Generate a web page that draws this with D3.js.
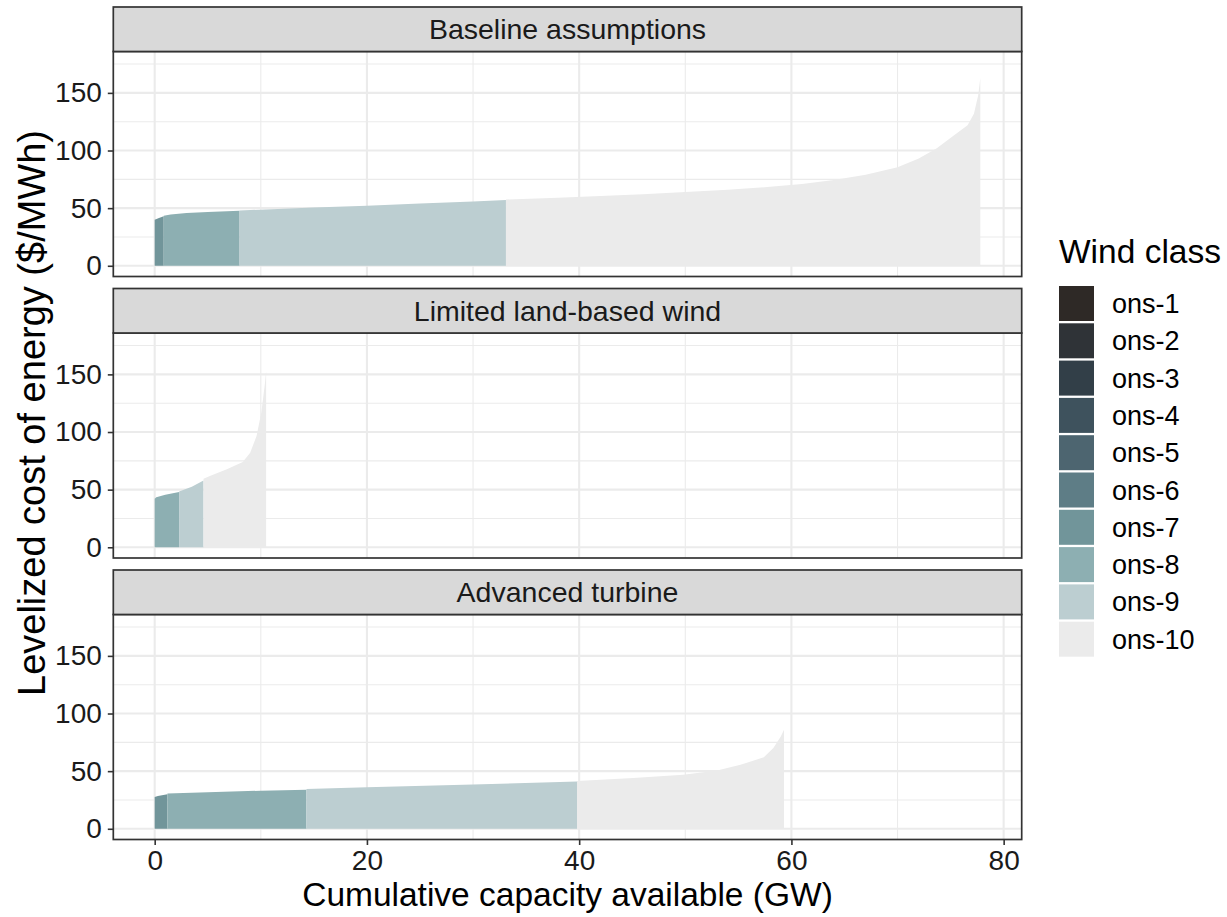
<!DOCTYPE html>
<html>
<head>
<meta charset="utf-8">
<script src="https://cdn.jsdelivr.net/npm/d3@7"></script>
<style>
  html, body { margin: 0; padding: 0; background: #ffffff; }
  svg { display: block; font-family: "Liberation Sans", Arial, sans-serif; }
</style>
</head>
<body>
<svg id="chart" width="1227" height="917"></svg>
<script>
// ---------------- data ----------------
const scenarios = ["Baseline assumptions", "Limited land-based wind", "Advanced turbine"];
const windClasses = ["ons-1","ons-2","ons-3","ons-4","ons-5","ons-6","ons-7","ons-8","ons-9","ons-10"];
const classColors = ["#2E2926","#2F3337","#323F48","#3E525D","#4D6570","#5E7D86","#71959A","#8DAFB2","#BCCED1","#EBEBEB"];
const xTicks = [0, 20, 40, 60, 80];
const xMinorTicks = [10, 30, 50, 70];
const yTicks = [0, 50, 100, 150];
const yMinorTicks = [25, 75, 125, 175];

// [wind class, cumulative capacity (GW), levelized cost ($/MWh)]
const baselineCurve = [
  ["ons-7", 0, 40], ["ons-7", 0.4, 41.5], ["ons-7", 0.85, 43],
  ["ons-8", 0.85, 43.5], ["ons-8", 1.5, 44.5], ["ons-8", 3, 45.8], ["ons-8", 5, 46.7], ["ons-8", 8.0, 47.7],
  ["ons-9", 8.0, 48], ["ons-9", 15, 50.5], ["ons-9", 20, 52], ["ons-9", 25, 54], ["ons-9", 30, 55.8], ["ons-9", 33.1, 57],
  ["ons-10", 33.1, 57.5], ["ons-10", 38, 59], ["ons-10", 42, 60.5], ["ons-10", 46, 62], ["ons-10", 50, 64],
  ["ons-10", 54, 66], ["ons-10", 58, 68.5], ["ons-10", 61, 71], ["ons-10", 64, 74.5], ["ons-10", 67, 79],
  ["ons-10", 70, 85.5], ["ons-10", 72, 93], ["ons-10", 73.7, 102], ["ons-10", 75.3, 113], ["ons-10", 76.6, 122],
  ["ons-10", 77.2, 132], ["ons-10", 77.6, 148], ["ons-10", 77.8, 163]
];
const limitedCurve = [
  ["ons-8", 0, 42], ["ons-8", 0.15, 43.5], ["ons-8", 1, 45.5], ["ons-8", 2.3, 48],
  ["ons-9", 2.3, 48.5], ["ons-9", 3.5, 52.5], ["ons-9", 4.6, 58],
  ["ons-10", 4.6, 59.5], ["ons-10", 5.2, 61.8], ["ons-10", 6.8, 67.6], ["ons-10", 8.3, 74], ["ons-10", 9.0, 82],
  ["ons-10", 9.6, 96.5], ["ons-10", 10.05, 117], ["ons-10", 10.4, 143], ["ons-10", 10.5, 153]
];
const advancedCurve = [
  ["ons-7", 0, 27.5], ["ons-7", 0.3, 28.5], ["ons-7", 1.2, 30],
  ["ons-8", 1.2, 30.5], ["ons-8", 5, 31.8], ["ons-8", 10, 33], ["ons-8", 14.3, 33.8],
  ["ons-9", 14.3, 34.5], ["ons-9", 20, 36], ["ons-9", 30, 38.5], ["ons-9", 39.8, 41],
  ["ons-10", 39.8, 41.5], ["ons-10", 45.1, 44], ["ons-10", 49.8, 46.8], ["ons-10", 53, 50.5], ["ons-10", 55.2, 55.5],
  ["ons-10", 57.4, 62], ["ons-10", 58.3, 70], ["ons-10", 59.0, 80], ["ons-10", 59.3, 86]
];
const curves = [baselineCurve, limitedCurve, advancedCurve];

// ---------------- layout ----------------
const svg = d3.select("#chart");
const left = 113.3, right = 1021.7;
const top0 = 7, stripH = 44.5, plotH = 225, gap = 12;
const border = "#333333";
const colorScale = d3.scaleOrdinal().domain(windClasses).range(classColors);

const x = d3.scaleLinear().domain([-3.9, 81.7]).range([left, right]);

scenarios.forEach((name, i) => {
  const stripTop = top0 + i * (stripH + plotH + gap);
  const plotTop = stripTop + stripH;
  const plotBottom = plotTop + plotH;
  const y = d3.scaleLinear().domain([-9.3, 185.9]).range([plotBottom, plotTop]);
  const g = svg.append("g");

  g.append("rect").attr("x", left).attr("y", plotTop).attr("width", right - left).attr("height", plotH).attr("fill", "#fff");

  g.selectAll(".ym").data(yMinorTicks).join("line")
    .attr("x1", left).attr("x2", right).attr("y1", d => y(d)).attr("y2", d => y(d))
    .attr("stroke", "#EBEBEB").attr("stroke-width", 1.1);
  g.selectAll(".xm").data(xMinorTicks).join("line")
    .attr("x1", d => x(d)).attr("x2", d => x(d)).attr("y1", plotTop).attr("y2", plotBottom)
    .attr("stroke", "#EBEBEB").attr("stroke-width", 1.1);
  g.selectAll(".yM").data(yTicks).join("line")
    .attr("x1", left).attr("x2", right).attr("y1", d => y(d)).attr("y2", d => y(d))
    .attr("stroke", "#EBEBEB").attr("stroke-width", 2.1);
  g.selectAll(".xM").data(xTicks).join("line")
    .attr("x1", d => x(d)).attr("x2", d => x(d)).attr("y1", plotTop).attr("y2", plotBottom)
    .attr("stroke", "#EBEBEB").attr("stroke-width", 2.1);

  const groups = d3.groups(curves[i], d => d[0]);
  const area = d3.area().x(d => x(d[1])).y0(y(0)).y1(d => y(d[2]));
  groups.forEach(([cls, pts]) => {
    g.append("path").attr("d", area(pts)).attr("fill", colorScale(cls)).attr("stroke", "none");
  });

  g.append("rect").attr("x", left).attr("y", plotTop).attr("width", right - left).attr("height", plotH)
    .attr("fill", "none").attr("stroke", border).attr("stroke-width", 1.7);

  g.append("rect").attr("x", left).attr("y", stripTop).attr("width", right - left).attr("height", stripH)
    .attr("fill", "#D9D9D9").attr("stroke", border).attr("stroke-width", 1.7);
  g.append("text").attr("x", (left + right) / 2).attr("y", stripTop + stripH / 2 + 10)
    .attr("text-anchor", "middle").attr("font-size", 28.5).attr("fill", "#1A1A1A").text(name);

  const yAxis = d3.axisLeft(y).tickValues(yTicks).tickSize(5.5).tickPadding(6);
  const ya = g.append("g").attr("transform", `translate(${left},0)`).call(yAxis);
  ya.select(".domain").remove();
  ya.selectAll(".tick line").attr("stroke", border).attr("stroke-width", 1.6);
  ya.selectAll(".tick text").attr("font-size", 28).attr("fill", "#1A1A1A")
    .attr("font-family", "'Liberation Sans', Arial, sans-serif");

  if (i === scenarios.length - 1) {
    const xAxis = d3.axisBottom(x).tickValues(xTicks).tickSize(5.5).tickPadding(5);
    const xa = g.append("g").attr("transform", `translate(0,${plotBottom})`).call(xAxis);
    xa.select(".domain").remove();
    xa.selectAll(".tick line").attr("stroke", border).attr("stroke-width", 1.6);
    xa.selectAll(".tick text").attr("font-size", 28).attr("fill", "#1A1A1A")
      .attr("font-family", "'Liberation Sans', Arial, sans-serif");
  }
});

svg.append("text").attr("x", (left + right) / 2).attr("y", 906).attr("text-anchor", "middle")
  .attr("font-size", 33.5).attr("fill", "#000").text("Cumulative capacity available (GW)");
svg.append("text").attr("transform", "translate(45,413) rotate(-90)").attr("text-anchor", "middle")
  .attr("font-size", 38).attr("fill", "#000").text("Levelized cost of energy ($/MWh)");

const lg = svg.append("g");
lg.append("text").attr("x", 1059).attr("y", 263).attr("font-size", 33.5).attr("fill", "#000").text("Wind class");
windClasses.forEach((c, k) => {
  const ky = 286 + k * 37.3;
  lg.append("rect").attr("x", 1059).attr("y", ky).attr("width", 35).attr("height", 35).attr("fill", colorScale(c));
  lg.append("text").attr("x", 1112).attr("y", ky + 17.5 + 9.5).attr("font-size", 27).attr("fill", "#000").text(c);
});
</script>
</body>
</html>
